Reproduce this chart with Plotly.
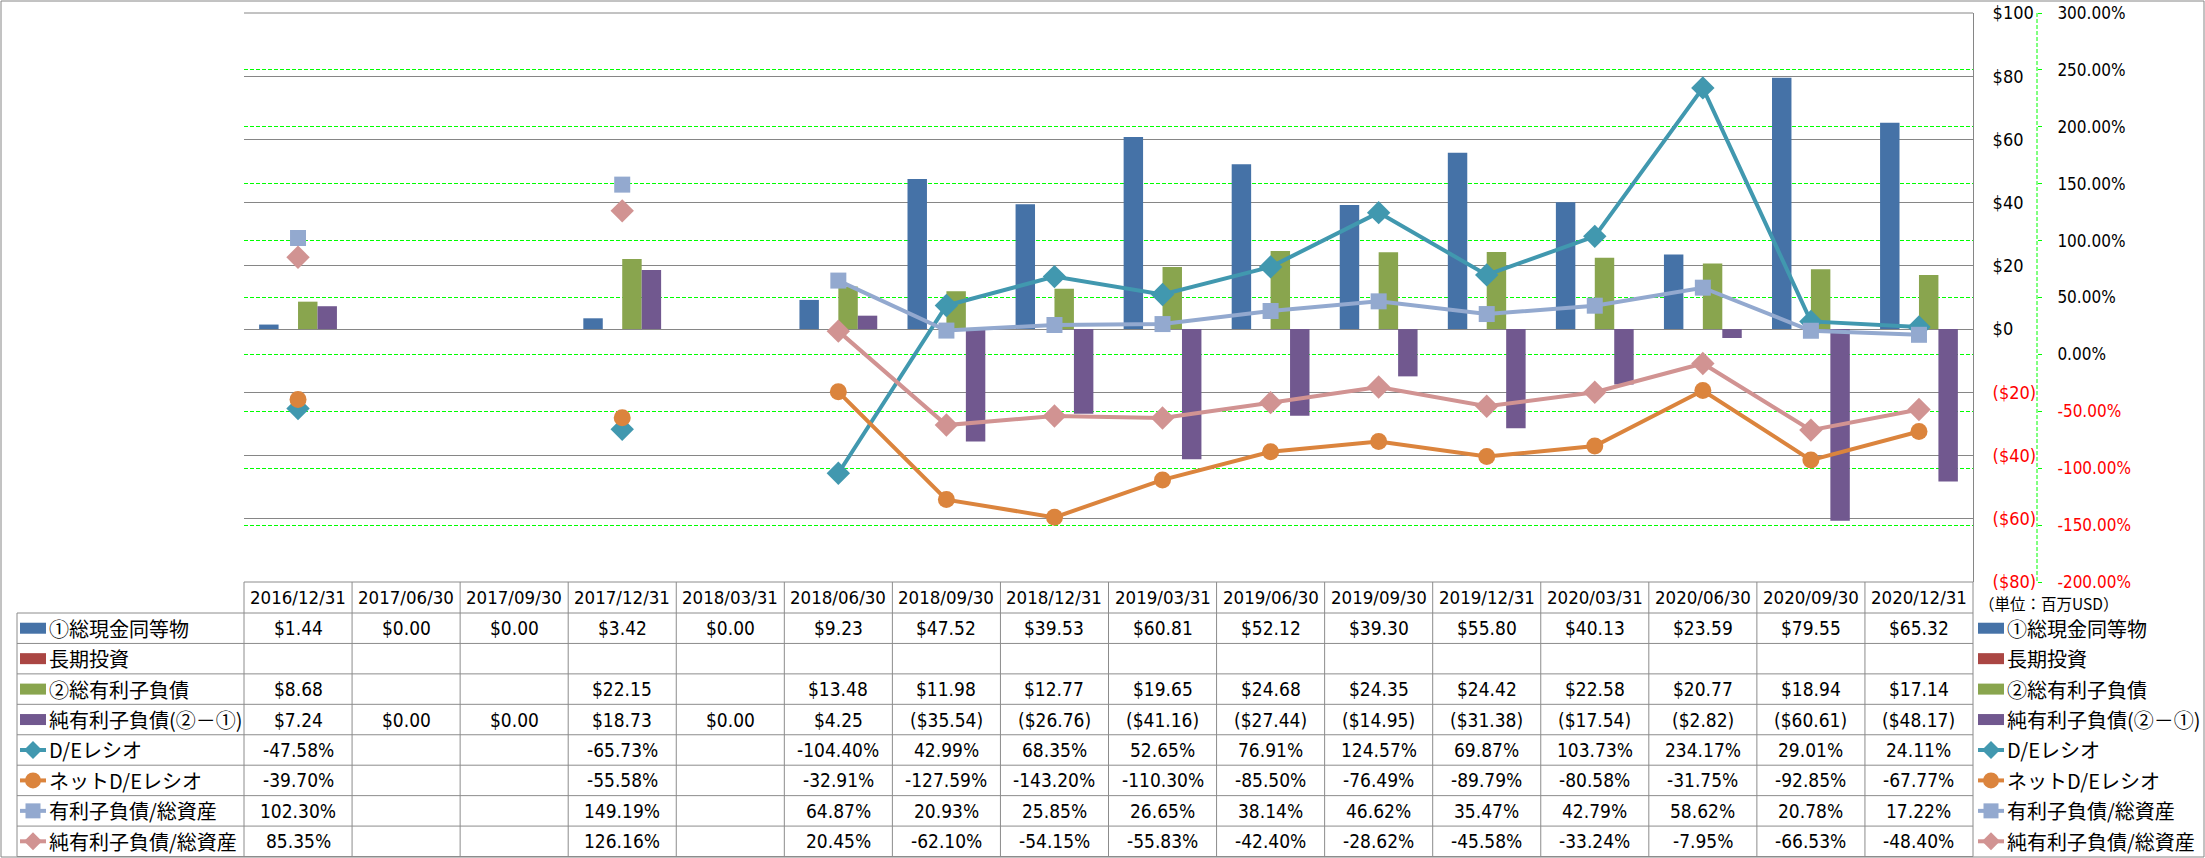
import plotly.graph_objects as go

W, H = 2205, 858

# ---------------- data ----------------
dates = ['2016/12/31', '2017/06/30', '2017/09/30', '2017/12/31', '2018/03/31', '2018/06/30',
         '2018/09/30', '2018/12/31', '2019/03/31', '2019/06/30', '2019/09/30', '2019/12/31',
         '2020/03/31', '2020/06/30', '2020/09/30', '2020/12/31']
cash = [1.44, 0.00, 0.00, 3.42, 0.00, 9.23, 47.52, 39.53, 60.81, 52.12, 39.30, 55.80, 40.13, 23.59, 79.55, 65.32]
long_inv = [None] * 16
debt = [8.68, None, None, 22.15, None, 13.48, 11.98, 12.77, 19.65, 24.68, 24.35, 24.42, 22.58, 20.77, 18.94, 17.14]
net_debt = [7.24, 0.00, 0.00, 18.73, 0.00, 4.25, -35.54, -26.76, -41.16, -27.44, -14.95, -31.38, -17.54, -2.82, -60.61, -48.17]
de_ratio = [-47.58, None, None, -65.73, None, -104.40, 42.99, 68.35, 52.65, 76.91, 124.57, 69.87, 103.73, 234.17, 29.01, 24.11]
net_de_ratio = [-39.70, None, None, -55.58, None, -32.91, -127.59, -143.20, -110.30, -85.50, -76.49, -89.79, -80.58, -31.75, -92.85, -67.77]
debt_assets = [102.30, None, None, 149.19, None, 64.87, 20.93, 25.85, 26.65, 38.14, 46.62, 35.47, 42.79, 58.62, 20.78, 17.22]
net_debt_assets = [85.35, None, None, 126.16, None, 20.45, -62.10, -54.15, -55.83, -42.40, -28.62, -45.58, -33.24, -7.95, -66.53, -48.40]

names = ['①総現金同等物', '長期投資', '②総有利子負債', '純有利子負債(②－①)',
         'D/Eレシオ', 'ネットD/Eレシオ', '有利子負債/総資産', '純有利子負債/総資産']
usd_ticks = [-80, -60, -40, -20, 0, 20, 40, 60, 80, 100]
pct_ticks = [-200, -150, -100, -50, 0, 50, 100, 150, 200, 250, 300]
unit_label = '（単位：百万USD）'

# ---------------- style ----------------
C_BLUE, C_RED, C_GREEN, C_PURPLE = '#4572A7', '#AA4643', '#89A54E', '#71588F'
C_TEAL, C_ORANGE, C_LBLUE, C_PINK = '#4198AF', '#DB843D', '#93A9CF', '#D19392'
GRAY = '#868686'
TGRAY = '#8C8C8C'
NUMFONT = 'DejaVu Sans Condensed, DejaVu Sans, Noto Sans CJK JP'
JPFONT = 'Noto Sans CJK JP, DejaVu Sans'

PL, PR, PT, PB = 244, 1973, 13, 582          # plot area in px
ROW0, ROWH = 613, 30.44                     # table rows
COLW = (PR - PL) / len(dates)


def px(x):
    return x / W


def py(y):
    return 1 - y / H


fig = go.Figure()

bar_specs = [(cash, C_BLUE, -0.36), (long_inv, C_RED, -0.18), (debt, C_GREEN, 0.0), (net_debt, C_PURPLE, 0.18)]
for (vals, col, off), nm in zip(bar_specs, names[:4]):
    fig.add_trace(go.Bar(x=dates, y=vals, name=nm, marker=dict(color=col, line=dict(width=0)),
                         width=0.18, offset=off, yaxis='y', showlegend=False, hoverinfo='skip'))

line_specs = [(de_ratio, C_TEAL, 'diamond', 18), (net_de_ratio, C_ORANGE, 'circle', 17),
              (debt_assets, C_LBLUE, 'square', 16), (net_debt_assets, C_PINK, 'diamond', 18)]
for (vals, col, sym, sz), nm in zip(line_specs, names[4:]):
    fig.add_trace(go.Scatter(x=dates, y=vals, name=nm, mode='lines+markers', yaxis='y2',
                             line=dict(color=col, width=4), connectgaps=False,
                             marker=dict(symbol=sym, size=sz, color=col, line=dict(width=0)),
                             showlegend=False, hoverinfo='skip', cliponaxis=False))


def usd_txt(v):
    if v < 0:
        return '<span style="color:#FF0000">($%d)</span>' % (-v)
    return '$%d' % v


def pct_txt(v):
    if v < 0:
        return '<span style="color:#FF0000">%.2f%%</span>' % v
    return '%.2f%%' % v


fig.update_layout(
    width=W, height=H, margin=dict(l=0, r=0, t=0, b=0),
    paper_bgcolor='white', plot_bgcolor='rgba(0,0,0,0)',
    barmode='group', bargap=0.28, bargroupgap=0,
    xaxis=dict(domain=[px(PL), px(PR)], type='category', range=[-0.5, len(dates) - 0.5],
               showticklabels=False, showgrid=False, zeroline=False, ticks=''),
    yaxis=dict(domain=[py(PB), py(PT)], range=[-80, 100], side='right',
               tickvals=usd_ticks, ticktext=[usd_txt(v) for v in usd_ticks],
               showgrid=True, gridcolor=GRAY, gridwidth=1, zeroline=False,
               showline=True, linecolor=GRAY, linewidth=1, ticks='',
               ticklabelstandoff=15, automargin=False,
               tickfont=dict(family=NUMFONT, size=18, color='black')),
    yaxis2=dict(overlaying='y', anchor='free', position=px(2037), side='right', range=[-200, 300],
                tickvals=pct_ticks, ticktext=[pct_txt(v) for v in pct_ticks],
                showgrid=True, gridcolor='#00FF00', gridwidth=1, griddash='4px,2px', zeroline=False,
                showline=False, ticks='outside', ticklen=4, tickcolor='#00FF00', tickwidth=1,
                ticklabelstandoff=12, automargin=False,
                tickfont=dict(family=NUMFONT, size=17, color='black')),
)

shapes = []
annos = []

# outer chart border
shapes.append(dict(type='rect', xref='paper', yref='paper', x0=px(1), x1=px(W - 1), y0=py(H - 1), y1=py(1),
                   line=dict(color=GRAY, width=1)))
# plot top line
shapes.append(dict(type='line', xref='paper', yref='paper', x0=px(PL), x1=px(PR), y0=py(PT), y1=py(PT),
                   line=dict(color=GRAY, width=1)))
# green dashed % axis line
shapes.append(dict(type='line', xref='paper', yref='paper', x0=px(2037), x1=px(2037), y0=py(PT), y1=py(PB),
                   line=dict(color='#00FF00', width=1, dash='4px,2px')))

# table grid
nrows = len(names)
ybot = ROW0 + ROWH * nrows
shapes.append(dict(type='line', xref='paper', yref='paper', x0=px(PL), x1=px(PR), y0=py(PB), y1=py(PB),
                   line=dict(color=TGRAY, width=1)))
for r in range(nrows + 1):
    yy = ROW0 + ROWH * r
    shapes.append(dict(type='line', xref='paper', yref='paper', x0=px(17), x1=px(PR), y0=py(yy), y1=py(yy),
                       line=dict(color=TGRAY, width=1)))
shapes.append(dict(type='line', xref='paper', yref='paper', x0=px(17), x1=px(17), y0=py(ROW0), y1=py(ybot),
                   line=dict(color=TGRAY, width=1)))
for c in range(len(dates) + 1):
    xx = PL + COLW * c
    shapes.append(dict(type='line', xref='paper', yref='paper', x0=px(xx), x1=px(xx), y0=py(PB), y1=py(ybot),
                       line=dict(color=TGRAY, width=1)))

# header dates
for c, d in enumerate(dates):
    annos.append(dict(x=px(PL + COLW * (c + 0.5)), y=py(PB + (ROW0 - PB) / 2), xref='paper', yref='paper',
                      text=d, showarrow=False, xanchor='center', yanchor='middle',
                      font=dict(family=NUMFONT, size=18.5, color='black')))


def fmt_usd(v):
    if v is None:
        return ''
    return '($%.2f)' % (-v) if v < 0 else '$%.2f' % v


def fmt_pct(v):
    if v is None:
        return ''
    return '%.2f%%' % v


rows = [(cash, fmt_usd), (long_inv, fmt_usd), (debt, fmt_usd), (net_debt, fmt_usd),
        (de_ratio, fmt_pct), (net_de_ratio, fmt_pct), (debt_assets, fmt_pct), (net_debt_assets, fmt_pct)]
for r, (vals, f) in enumerate(rows):
    yc = ROW0 + ROWH * (r + 0.5)
    for c, v in enumerate(vals):
        t = f(v)
        if t:
            annos.append(dict(x=px(PL + COLW * (c + 0.5)), y=py(yc), xref='paper', yref='paper',
                              text=t, showarrow=False, xanchor='center', yanchor='middle',
                              font=dict(family=NUMFONT, size=19, color='black')))

# legend keys (table column and right legend)
key_styles = [('bar', C_BLUE, None), ('bar', C_RED, None), ('bar', C_GREEN, None), ('bar', C_PURPLE, None),
              ('line', C_TEAL, 'diamond'), ('line', C_ORANGE, 'circle'), ('line', C_LBLUE, 'square'),
              ('line', C_PINK, 'diamond')]
for kx0, tx in [(20, 47), (1978, 2005)]:
    kx1 = kx0 + 26
    cx = (kx0 + kx1) / 2
    for r, (kind, col, sym) in enumerate(key_styles):
        yc = ROW0 + ROWH * (r + 0.5)
        if kind == 'bar':
            shapes.append(dict(type='rect', xref='paper', yref='paper', x0=px(kx0), x1=px(kx1),
                               y0=py(yc + 5.5), y1=py(yc - 5.5), fillcolor=col, line=dict(width=0)))
        else:
            shapes.append(dict(type='line', xref='paper', yref='paper', x0=px(kx0), x1=px(kx1),
                               y0=py(yc), y1=py(yc), line=dict(color=col, width=4)))
            if sym == 'diamond':
                rr = 9
                path = 'M %f %f L %f %f L %f %f L %f %f Z' % (
                    px(cx), py(yc - rr), px(cx + rr), py(yc), px(cx), py(yc + rr), px(cx - rr), py(yc))
                shapes.append(dict(type='path', xref='paper', yref='paper', path=path,
                                   fillcolor=col, line=dict(width=0)))
            elif sym == 'circle':
                rr = 8
                shapes.append(dict(type='circle', xref='paper', yref='paper', x0=px(cx - rr), x1=px(cx + rr),
                                   y0=py(yc + rr), y1=py(yc - rr), fillcolor=col, line=dict(width=0)))
            else:
                rr = 7.5
                shapes.append(dict(type='rect', xref='paper', yref='paper', x0=px(cx - rr), x1=px(cx + rr),
                                   y0=py(yc + rr), y1=py(yc - rr), fillcolor=col, line=dict(width=0)))
        annos.append(dict(x=px(tx), y=py(yc), xref='paper', yref='paper', text=names[r], showarrow=False,
                          xanchor='left', yanchor='middle', font=dict(family=JPFONT, size=20, color='black')))

annos.append(dict(x=px(1977), y=py(603), xref='paper', yref='paper', text=unit_label, showarrow=False,
                  xanchor='left', yanchor='middle', font=dict(family=JPFONT, size=15.5, color='black')))

fig.update_layout(shapes=shapes, annotations=annos)
fig.write_html('out.html', config={'displayModeBar': False},
               post_script="document.body.style.margin='0';document.body.style.overflow='hidden';")
